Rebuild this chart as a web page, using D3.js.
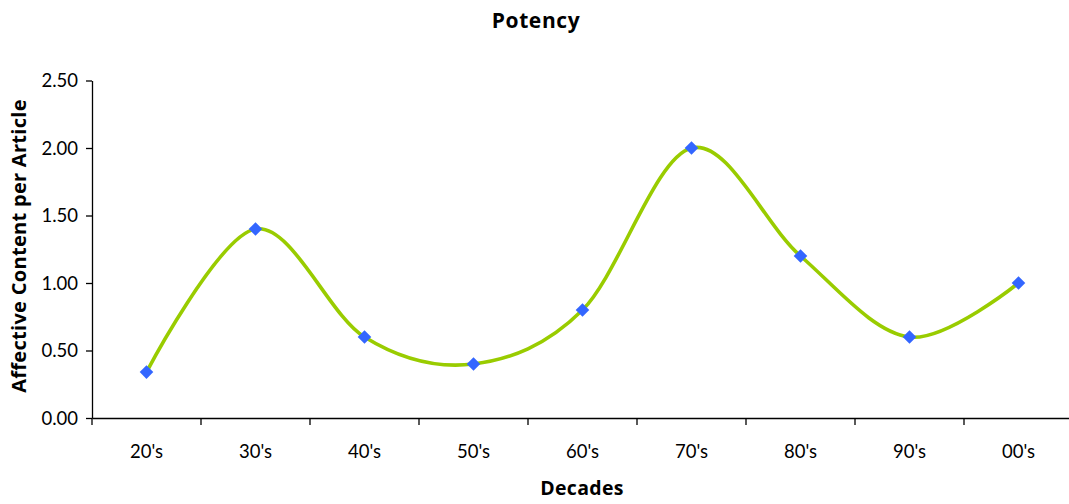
<!DOCTYPE html>
<html><head><meta charset="utf-8">
<script src="https://cdn.jsdelivr.net/npm/d3@7"></script>
<style>body{margin:0;background:#fff}svg{display:block}text{font-family:"Lato","Open Sans",sans-serif;fill:#000}.b{font-family:"Open Sans",sans-serif;font-weight:bold}</style>
</head><body><svg id="c" width="1069" height="504"></svg>
<script>
const categories = ["20's","30's","40's","50's","60's","70's","80's","90's","00's"];
const values = [0.34, 1.40, 0.60, 0.40, 0.80, 2.00, 1.20, 0.60, 1.00];
const yTicks = [0, 0.5, 1.0, 1.5, 2.0, 2.5];
const title = "Potency", xTitle = "Decades", yTitle = "Affective Content per Article";

const svg = d3.select("#c");
const x = d3.scaleBand().domain(categories).range([92, 1073]);
const y = d3.scaleLinear().domain([0, 2.5]).range([418, 80.5]);

// y axis
const ya = svg.append("g").attr("transform","translate(92,0)")
  .call(d3.axisLeft(y).tickValues(yTicks).tickFormat(d3.format(".2f")).tickSize(6).tickSizeOuter(0));
ya.select(".domain").attr("stroke","#000").attr("stroke-width",1.3);
ya.selectAll(".tick line").attr("stroke","#000").attr("stroke-width",1.3);
ya.selectAll(".tick text").attr("font-size",18.5).attr("x",-14).attr("dy","0.35em");

// x axis
const xa = svg.append("g").attr("transform","translate(0,418)")
  .call(d3.axisBottom(x).tickSize(0).tickSizeOuter(0));
xa.select(".domain").attr("stroke","#000").attr("stroke-width",1.3);
xa.selectAll(".tick text").attr("font-size",18.5).attr("y",40).attr("dy","0");
xa.selectAll("line.bt").data(categories).enter().append("line").attr("class","bt")
  .attr("x1",d=>x(d)).attr("x2",d=>x(d)).attr("y1",0).attr("y2",7)
  .attr("stroke","#000").attr("stroke-width",1.3);

// line
const line = d3.line().x((d,i)=>x(categories[i])+x.bandwidth()/2).y(d=>y(d))
  .curve(d3.curveCatmullRom.alpha(0));
svg.append("path").datum(values).attr("d",line).attr("fill","none")
  .attr("stroke","#99CC00").attr("stroke-width",3.6);

// markers
svg.selectAll("rect.m").data(values).enter().append("rect").attr("class","m")
  .attr("x",-4.8).attr("y",-4.8).attr("width",9.6).attr("height",9.6)
  .attr("fill","#3366FF")
  .attr("transform",(d,i)=>`translate(${x(categories[i])+x.bandwidth()/2},${y(d)}) rotate(45)`);

// titles
svg.append("text").attr("class","b").attr("x",536).attr("y",28).attr("text-anchor","middle")
  .attr("font-size",21).attr("letter-spacing",0.6).text(title);
svg.append("text").attr("class","b").attr("x",582).attr("y",495).attr("text-anchor","middle")
  .attr("font-size",19.5).attr("letter-spacing",0.3).text(xTitle);
svg.append("text").attr("class","b").attr("transform","translate(26,246) rotate(-90)").attr("text-anchor","middle")
  .attr("font-size",20).attr("letter-spacing",0.3).text(yTitle);
</script></body></html>
